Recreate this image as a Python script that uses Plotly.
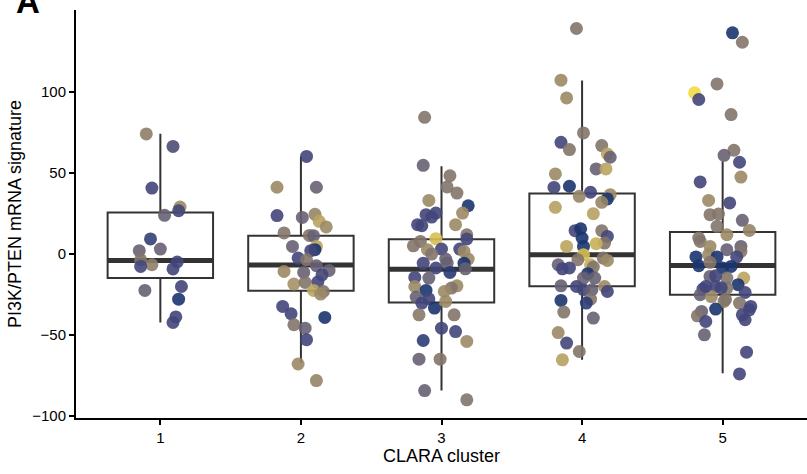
import plotly.graph_objects as go

# ---------------- data ----------------
clusters = [1, 2, 3, 4, 5]
cluster_labels = ["1", "2", "3", "4", "5"]

# box statistics
box_q1 = [-15.0, -22.8, -30.0, -20.0, -25.3]
box_median = [-4.1, -7.0, -9.5, -0.6, -7.2]
box_q3 = [25.5, 11.1, 9.0, 37.2, 13.4]
box_low = [-42.4, -67.4, -84.4, -65.4, -73.7]
box_high = [74.0, 60.0, 53.9, 106.8, 57.0]

# colour value of each point (0 = dark navy ... 1 = yellow)
N, S, P, T, K, G, Y = 0.05, 0.2, 0.38, 0.55, 0.68, 0.82, 0.97

# cluster 1
c1_jit = [-0.10, 0.09, -0.06, 0.14, 0.13, 0.03, -0.07, 0.00, -0.15, -0.14, -0.06, -0.14, 0.12, 0.09, -0.11, 0.15, 0.13, 0.11, 0.09]
c1_val = [73.9, 66.2, 40.5, 28.8, 26.5, 23.7, 9.1, 2.9, 1.9, -3.7, -6.8, -7.8, -5.1, -9.4, -22.6, -20.2, -28.0, -39.0, -42.4]
c1_col = [0.62, 0.25, S, K, S, P, 0.15, P, P, T, 0.62, S, S, S, P, S, N, S, S]

# cluster 2
c2_jit = [0.04, -0.17, 0.11, -0.17, 0.01, 0.10, 0.13, 0.18, -0.12, 0.06, 0.09, -0.06, 0.11, 0.10, 0.07, -0.02, 0.04, 0.11, 0.20, -0.12, 0.02, 0.15, -0.05, 0.03, 0.12, 0.09, 0.16, 0.14, -0.13, -0.07, 0.17, -0.05, 0.03, 0.04, -0.02, 0.11]
c2_val = [60.0, 41.0, 41.0, 23.5, 22.4, 24.3, 20.0, 16.5, 12.8, 11.3, 11.1, 4.5, 4.5, 2.5, 1.9, -2.7, -3.7, -7.4, -10.3, -10.9, -11.5, -13.0, -18.7, -17.7, -17.5, -22.6, -23.3, -24.9, -32.5, -37.0, -39.3, -43.8, -45.9, -53.0, -68.0, -78.2]
c2_col = [S, K, P, S, P, 0.65, G, K, T, T, P, P, G, N, S, S, T, P, P, K, P, S, 0.72, T, S, G, T, K, S, S, N, T, P, S, K, 0.65]

# cluster 3
c3_jit = [-0.12, -0.13, 0.06, 0.04, 0.11, -0.09, 0.19, 0.15, -0.11, -0.04, -0.07, -0.17, -0.14, 0.10, 0.18, 0.18, -0.04, -0.15, -0.20, 0.00, -0.10, 0.13, -0.07, 0.16, 0.19, 0.03, -0.13, 0.04, 0.16, 0.17, -0.04, 0.06, -0.19, -0.09, -0.19, 0.11, 0.07, -0.11, -0.18, -0.09, 0.02, 0.03, -0.05, -0.14, -0.16, 0.09, 0.00, 0.10, 0.18, -0.13, -0.16, -0.01, -0.12, 0.18]
c3_val = [84.1, 54.5, 48.1, 41.2, 37.4, 32.9, 29.6, 25.1, 24.1, 25.1, 22.6, 17.9, 17.3, 17.9, 11.7, 9.1, 9.3, 7.6, 4.9, 2.9, 2.5, 2.9, -0.2, 1.4, -3.3, -3.3, -5.8, -5.8, -5.8, -9.3, -8.8, -11.5, -14.6, -15.0, -20.2, -19.8, -21.2, -22.6, -26.7, -27.8, -23.3, -29.4, -33.5, -30.4, -37.7, -37.7, -45.9, -48.0, -54.1, -53.5, -65.0, -65.0, -84.4, -90.1]
c3_col = [T, P, T, T, T, K, N, K, S, S, S, S, S, K, T, S, 0.92, T, T, S, K, S, T, K, K, P, S, P, N, P, S, 0.1, S, P, K, K, T, N, P, S, K, K, N, S, 0.6, T, S, S, K, 0.12, P, T, P, T]

# cluster 4
c4_jit = [-0.04, -0.15, -0.11, 0.01, -0.15, -0.09, 0.14, 0.18, 0.20, 0.10, 0.17, -0.19, -0.20, -0.09, 0.06, -0.02, 0.20, 0.18, 0.14, -0.19, 0.08, -0.05, -0.01, 0.14, 0.18, 0.00, 0.16, -0.11, 0.10, 0.01, 0.01, -0.03, 0.15, 0.18, 0.06, -0.17, -0.14, -0.09, 0.08, 0.04, 0.01, 0.09, -0.15, -0.04, 0.01, 0.07, 0.16, 0.18, 0.06, 0.03, -0.15, -0.13, 0.08, -0.17, -0.11, -0.02, -0.14]
c4_val = [138.9, 107.0, 96.1, 74.5, 68.7, 64.2, 66.7, 61.5, 59.5, 52.3, 52.3, 49.2, 40.9, 41.6, 37.9, 35.4, 36.4, 33.8, 31.7, 28.6, 24.7, 14.2, 15.4, 14.2, 10.7, 9.7, 6.6, 4.5, 6.2, 4.5, -0.6, -3.7, -2.7, -4.1, -6.8, -6.8, -9.3, -8.8, -8.2, -12.3, -15.0, -15.0, -19.8, -20.2, -22.2, -22.2, -20.2, -23.3, -28.0, -30.4, -28.8, -36.0, -39.7, -48.6, -55.1, -60.3, -65.4]
c4_col = [T, K, K, T, S, T, T, G, P, P, G, K, S, N, S, 0.65, K, N, 0.65, 0.8, 0.8, S, N, T, S, N, T, G, 0.88, N, 0.92, T, T, K, 0.88, P, S, S, T, N, P, P, P, S, S, P, K, S, T, 0.12, N, T, P, K, S, T, 0.8]

# cluster 5
c5_jit = [0.07, 0.14, -0.04, -0.20, -0.17, 0.06, 0.08, 0.01, 0.12, 0.13, -0.16, -0.10, 0.05, -0.09, -0.03, 0.14, -0.04, 0.19, 0.03, -0.17, -0.16, 0.13, -0.09, 0.03, 0.13, -0.10, -0.19, -0.04, 0.10, -0.17, 0.00, 0.06, -0.09, 0.03, 0.15, 0.11, -0.05, -0.14, 0.03, -0.16, -0.08, 0.16, 0.01, 0.12, 0.20, -0.05, -0.15, -0.18, -0.12, 0.16, -0.13, 0.17, 0.12, -0.05, -0.01, -0.12, -0.09, 0.19, 0.14, 0.02]
c5_val = [136.2, 130.4, 104.7, 99.2, 95.1, 85.8, 63.8, 60.7, 56.4, 47.3, 44.3, 32.9, 31.3, 24.1, 24.5, 20.6, 16.9, 14.4, 11.7, 9.7, 7.6, 4.5, 4.5, 2.5, 1.4, -0.6, -2.0, -2.0, -2.0, -7.4, -8.8, -7.8, -14.0, -15.0, -15.0, -19.1, -20.2, -21.8, -21.2, -25.3, -26.4, -23.9, -29.4, -30.4, -32.5, -34.1, -35.6, -38.3, -41.8, -40.7, -50.0, -60.7, -74.1, -13.6, -21.0, -20.2, -5.3, -34.6, -37.7, -28.2]
c5_col = [N, T, T, 1.0, S, T, T, P, S, K, S, K, S, T, T, P, T, 0.65, K, T, T, P, K, P, T, K, N, N, S, N, N, N, P, T, G, N, S, S, T, P, K, S, 0.62, T, S, N, P, T, S, S, P, S, S, S, S, S, T, S, S, T]

jitters = [c1_jit, c2_jit, c3_jit, c4_jit, c5_jit]
values = [c1_val, c2_val, c3_val, c4_val, c5_val]
colours = [c1_col, c2_col, c3_col, c4_col, c5_col]

y_ticks = [-100, -50, 0, 50, 100]

# ---------------- figure ----------------
BOX_W = 0.75
LINE_C = "#333333"
FONT = "Liberation Sans, Arial, Helvetica, sans-serif"

colorscale = [
    [0.0, "#0E2E6A"],
    [0.2, "#42467A"],
    [0.4, "#6B6372"],
    [0.6, "#8A7A68"],
    [0.75, "#AA9765"],
    [0.88, "#C8B05A"],
    [1.0, "#F3DA46"],
]

fig = go.Figure()

for i, c in enumerate(clusters):
    fig.add_trace(go.Box(
        x=[c], q1=[box_q1[i]], median=[box_median[i]], q3=[box_q3[i]],
        lowerfence=[box_low[i]], upperfence=[box_high[i]],
        width=BOX_W, whiskerwidth=0, boxpoints=False,
        line=dict(color=LINE_C, width=2),
        fillcolor="rgba(255,255,255,0)",
        hoverinfo="skip",
    ))

for i, c in enumerate(clusters):
    fig.add_trace(go.Scatter(
        x=[c - BOX_W / 2, c + BOX_W / 2], y=[box_median[i], box_median[i]],
        mode="lines", line=dict(color=LINE_C, width=5), hoverinfo="skip",
    ))

xs, ys, cs = [], [], []
for c, j, v, col in zip(clusters, jitters, values, colours):
    for jj, vv, cc in zip(j, v, col):
        xs.append(c + jj)
        ys.append(vv)
        cs.append(cc)

fig.add_trace(go.Scatter(
    x=xs, y=ys, mode="markers",
    marker=dict(size=13, color=cs, colorscale=colorscale, cmin=0, cmax=1,
                opacity=0.9, line=dict(width=0)),
    hoverinfo="skip",
))

axis_common = dict(
    showline=True, linecolor="black", linewidth=2,
    ticks="outside", ticklen=5, tickwidth=1.5, tickcolor="black",
    showgrid=False, zeroline=False,
    tickfont=dict(family=FONT, size=15, color="black"),
)

fig.update_layout(
    width=807, height=474,
    margin=dict(l=76, r=0, t=10, b=56),
    plot_bgcolor="white", paper_bgcolor="white",
    showlegend=False,
    font=dict(family=FONT, color="black"),
    xaxis=dict(range=[0.4, 5.6], tickvals=clusters, ticktext=cluster_labels,
               title=dict(text="CLARA cluster", font=dict(family=FONT, size=18), standoff=2),
               **axis_common),
    yaxis=dict(range=[-101.3, 150.3], tickvals=y_ticks,
               title=dict(text="PI3K/PTEN mRNA signature", font=dict(family=FONT, size=18), standoff=6),
               **axis_common),
    annotations=[dict(
        text="<b>A</b>", xref="paper", yref="paper", x=0, y=1,
        xanchor="left", yanchor="bottom", xshift=-62, yshift=-12,
        showarrow=False, font=dict(family=FONT, size=33, color="black"),
    )],
)

fig.write_html("out.html")
